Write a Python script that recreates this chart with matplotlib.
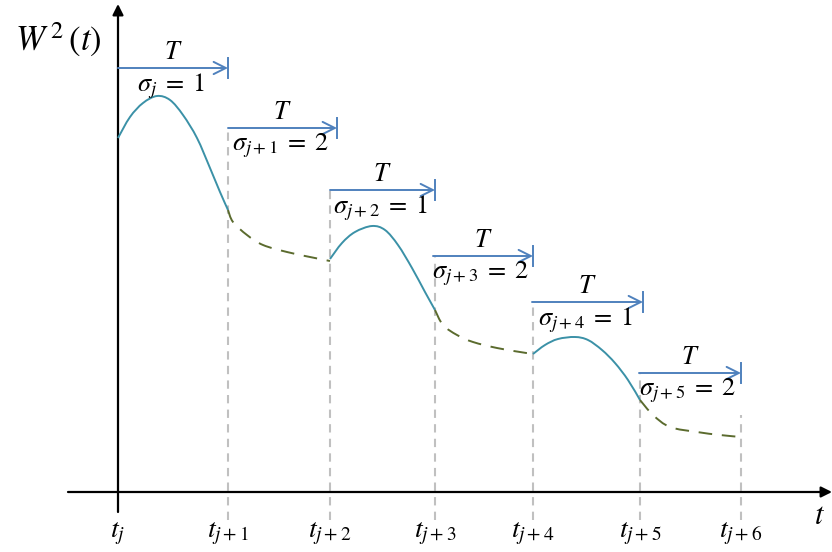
import matplotlib.pyplot as plt
from matplotlib.path import Path
from matplotlib.patches import PathPatch

plt.rcParams['mathtext.fontset'] = 'stix'

# time instants (distance from t_j along the axis)
t_pos = [0, 110, 212, 317, 415, 522, 623]
t_labels = [r'$t_j$', r'$t_{j+1}$', r'$t_{j+2}$', r'$t_{j+3}$',
            r'$t_{j+4}$', r'$t_{j+5}$', r'$t_{j+6}$']

# W^2(t), one list per interval
seg_x = [
    [0, 12, 25, 39, 52, 65, 79, 92, 102, 110],
    [110, 115, 129, 145, 169, 192, 212],
    [212, 224, 237, 254, 267, 280, 294, 307, 317],
    [317, 325, 339, 355, 379, 402, 415],
    [415, 427, 440, 457, 470, 484, 497, 510, 522],
    [522, 535, 552, 579, 602, 623],
]
seg_y = [
    [354, 375, 389, 396, 392, 377, 354, 324, 300, 282],
    [282, 270, 257, 247, 240, 235, 231],
    [233, 249, 260, 266, 262, 247, 224, 200, 182],
    [182, 167, 157, 150, 144, 140, 138],
    [138, 147, 153, 155, 152, 142, 129, 112, 92],
    [92, 77, 65, 60, 57, 55],
]
sigma = [1, 2, 1, 2, 1, 2]

# T-arrows over each interval
arrow_start = [0, 110, 212, 315, 414, 521]
arrow_end = [110, 219, 317, 415, 525, 623]
arrow_y = [424, 364, 302, 236, 190, 119]
# top of the grey guide line at each t (t_j has none)
guide_top = [None, 364, 302, 237, 190, 119, 77]

teal = '#3b91a7'
olive = '#5b6b2e'
blue = '#4f81bd'
grey = '#c0c0c0'


def smooth_path(xs, ys):
    """Catmull-Rom through the points, handed to matplotlib as cubic Beziers"""
    pts = list(zip(xs, ys))
    verts = [pts[0]]
    codes = [Path.MOVETO]
    n = len(pts)
    for i in range(n - 1):
        p0 = pts[max(i - 1, 0)]
        p1 = pts[i]
        p2 = pts[i + 1]
        p3 = pts[min(i + 2, n - 1)]
        c1 = (p1[0] + (p2[0] - p0[0]) / 6, p1[1] + (p2[1] - p0[1]) / 6)
        c2 = (p2[0] - (p3[0] - p1[0]) / 6, p2[1] - (p3[1] - p1[1]) / 6)
        verts += [c1, c2, p2]
        codes += [Path.CURVE4] * 3
    return Path(verts, codes)


fig = plt.figure(figsize=(8.32, 5.52), dpi=100)
ax = fig.add_axes([0, 0, 1, 1])
ax.set_xlim(-118, 714)
ax.set_ylim(-60, 492)
ax.axis('off')

# grey guides
for x, top in zip(t_pos, guide_top):
    if top is None:
        continue
    ax.plot([x, x], [-28, top], color=grey, lw=1.5, ls=(0, (4, 3)), zorder=1)

# axes
ax.annotate('', xy=(0, 488), xytext=(0, -20),
             arrowprops=dict(arrowstyle='-|>', color='black', lw=1.6,
                             mutation_scale=16, shrinkA=0, shrinkB=0))
ax.annotate('', xy=(714, 0), xytext=(-50, 0),
             arrowprops=dict(arrowstyle='-|>', color='black', lw=1.6,
                             mutation_scale=16, shrinkA=0, shrinkB=0))

# curve
for xs, ys, s in zip(seg_x, seg_y, sigma):
    if s == 1:
        patch = PathPatch(smooth_path(xs, ys), fill=False, edgecolor=teal,
                          lw=1.4, zorder=3)
    else:
        patch = PathPatch(smooth_path(xs, ys), fill=False, edgecolor=olive,
                          lw=1.4, ls=(0, (7, 5)), zorder=3)
    ax.add_patch(patch)

# T arrows and sigma labels
for i, (x0, x1, y) in enumerate(zip(arrow_start, arrow_end, arrow_y)):
    ax.annotate('', xy=(x1, y), xytext=(x0, y),
                arrowprops=dict(arrowstyle='->', color=blue, lw=1.4,
                                mutation_scale=22, shrinkA=0, shrinkB=0))
    ax.plot([x1, x1], [y - 10, y + 10], color=blue, lw=1.4)
    xc = (x0 + x1) / 2
    ax.text(xc, y + 16, r'$T$', fontsize=19, ha='center', va='center')
    sub = 'j' if i == 0 else 'j+%d' % i
    ax.text(xc - 2, y - 18, r'$\sigma_{%s}\;=\;%d$' % (sub, sigma[i]),
            fontsize=19, ha='center', va='center')

# tick labels
for x, lab in zip(t_pos, t_labels):
    ax.text(x, -41, lab, fontsize=20, ha='center', va='center')

ax.text(702, -24, r'$t$', fontsize=22, ha='center', va='center')
ax.text(-60, 452, r'$W^{\,2}\,(t)$', fontsize=25, ha='center', va='center')

fig.savefig('out.png', dpi=100)
